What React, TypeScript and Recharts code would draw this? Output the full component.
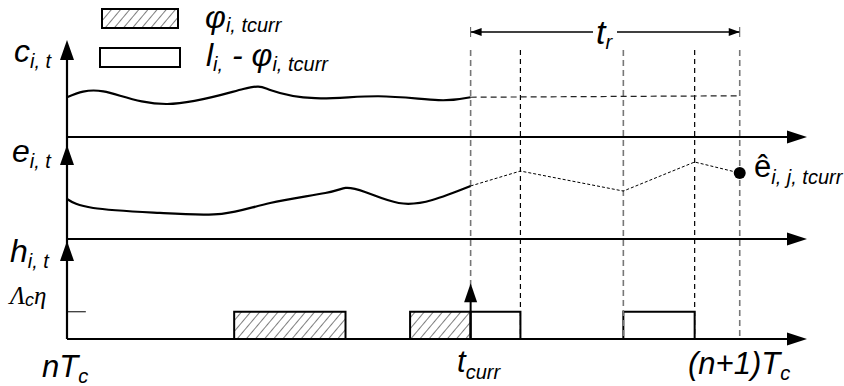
import React from 'react'
import {
  ComposedChart, Line, XAxis, YAxis, ReferenceLine, ReferenceArea, ReferenceDot, Scatter,
} from 'recharts'

const W = 844
const H = 386
const SANS = '"Liberation Sans", Arial, sans-serif'
const SERIF = '"Liberation Serif", "Times New Roman", serif'

// time axis: 0 = nTc, 100 = (n+1)Tc, t_curr = 60
const C_T = [0, 5.4, 14.9, 26.2, 30.2, 36.9, 46.3, 55.2, 60]
const C_V = [4.1, 4.7, 3.4, 4.95, 4.85, 4.0, 4.2, 3.8, 4.1]
const C_FC_T = [60, 100]
const C_FC_V = [4.1, 4.25]

const E_T = [0, 3.9, 13.8, 23.0, 30.2, 38.4, 41.4, 44.3, 49.3, 54.3, 60]
const E_V = [4.26, 3.3, 2.77, 2.68, 3.83, 4.89, 5.43, 5.0, 3.83, 4.15, 5.64]
const E_FC_T = [60, 67.4, 82.7, 93.3, 100]
const E_FC_V = [5.64, 7.23, 5.1, 8.19, 7.02]

const MARKS = [60, 67.4, 82.7, 93.3, 100]
const MARK_GRAY = [true, false, true, false, true]
const HATCHED = [[24.85, 41.4], [51.0, 60]]
const OPEN = [[60, 67.4], [82.7, 93.3]]
const H_LEVEL = 1
const T_CURR = 60

const X_MIN = -3
const X_MAX = 110
const PX_PER_T = 740 / 110
const LEFT = 67 + X_MIN * PX_PER_T
const RIGHT = 37

const PANELS: any = {
  c: { base: 137, top: 40, max: 10 },
  e: { base: 239, top: 145, max: 10 },
  h: { base: 339, top: 241, max: 3.6 },
}
const domainOf = (p: any) => {
  const u = (p.base - p.top) / p.max
  return [(p.base - H) / u, p.base / u]
}
const zip = (ts: number[], vs: number[]) => ts.map((t, i) => ({ t, v: vs[i] }))

const arrowShape = (dir: string, L: number, w: number) => (p: any) => {
  const { cx, cy } = p
  let pts = ''
  if (dir === 'r') pts = `${cx},${cy} ${cx - L},${cy - w} ${cx - L},${cy + w}`
  if (dir === 'l') pts = `${cx},${cy} ${cx + L},${cy - w} ${cx + L},${cy + w}`
  if (dir === 'u') pts = `${cx},${cy} ${cx - w},${cy + L} ${cx + w},${cy + L}`
  return <polygon points={pts} fill="#000" />
}

function Dot(props: any) {
  return <circle cx={props.cx} cy={props.cy} r={6} fill="#000" />
}

export default function App() {
  const sub = { fontSize: 20 }
  return (
    <div style={{ position: 'fixed', left: 0, top: 0, width: W, height: H, background: '#fff' }}>
      <svg width={0} height={0} style={{ position: 'absolute' }}>
        <defs>
          <pattern id="hatch" width="7" height="7" patternUnits="userSpaceOnUse" patternTransform="rotate(40)">
            <line x1="0" y1="0" x2="0" y2="7" stroke="#000" strokeWidth="1" />
          </pattern>
        </defs>
      </svg>
      <ComposedChart width={W} height={H} margin={{ top: 0, right: RIGHT, bottom: 0, left: LEFT }}>
        <XAxis dataKey="t" type="number" domain={[X_MIN, X_MAX]} hide allowDataOverflow />
        <YAxis yAxisId="f" type="number" domain={[0, H]} reversed hide allowDataOverflow />
        <YAxis yAxisId="c" type="number" domain={domainOf(PANELS.c)} hide allowDataOverflow />
        <YAxis yAxisId="e" type="number" domain={domainOf(PANELS.e)} hide allowDataOverflow />
        <YAxis yAxisId="h" type="number" domain={domainOf(PANELS.h)} hide allowDataOverflow />

        {MARKS.map((m, i) => (
          <ReferenceLine key={'m' + i} yAxisId="f" ifOverflow="visible"
            segment={[{ x: m, y: 50 }, { x: m, y: m === T_CURR ? 290 : PANELS.h.base }]}
            stroke={MARK_GRAY[i] ? '#777' : '#000'} strokeWidth={MARK_GRAY[i] ? 1.6 : 1.2}
            strokeDasharray={MARK_GRAY[i] ? '6 4' : '5 4'} />
        ))}

        {['c', 'e', 'h'].map(id => (
          <ReferenceLine key={'ax' + id} yAxisId={id} ifOverflow="visible"
            segment={[{ x: 0, y: 0 }, { x: X_MAX - 2, y: 0 }]} stroke="#000" strokeWidth={2.2} />
        ))}
        <ReferenceLine yAxisId="f" ifOverflow="visible"
          segment={[{ x: 0, y: 50 }, { x: 0, y: PANELS.h.base }]} stroke="#000" strokeWidth={2.2} />
        <ReferenceLine yAxisId="h" ifOverflow="visible"
          segment={[{ x: 0, y: H_LEVEL }, { x: 2.8, y: H_LEVEL }]} stroke="#000" strokeWidth={1} />

        {HATCHED.map(([a, b], i) => (
          <ReferenceArea key={'hb' + i} yAxisId="h" x1={a} x2={b} y1={0} y2={H_LEVEL}
            fill="url(#hatch)" fillOpacity={1} stroke="#000" strokeWidth={2} ifOverflow="visible" />
        ))}
        {OPEN.map(([a, b], i) => (
          <ReferenceArea key={'ob' + i} yAxisId="h" x1={a} x2={b} y1={0} y2={H_LEVEL}
            fill="#fff" fillOpacity={1} stroke="#000" strokeWidth={2} ifOverflow="visible" />
        ))}
        <ReferenceLine yAxisId="h" ifOverflow="visible"
          segment={[{ x: T_CURR, y: 0 }, { x: T_CURR, y: 1.6 }]} stroke="#000" strokeWidth={2} />

        {/* t_r dimension */}
        <ReferenceLine yAxisId="f" ifOverflow="visible"
          segment={[{ x: MARKS[0], y: 32 }, { x: MARKS[4], y: 32 }]} stroke="#000" strokeWidth={1.3} />
        <ReferenceLine yAxisId="f" ifOverflow="visible"
          segment={[{ x: MARKS[0], y: 27 }, { x: MARKS[0], y: 37 }]} stroke="#555" strokeWidth={1} />
        <ReferenceLine yAxisId="f" ifOverflow="visible"
          segment={[{ x: MARKS[4], y: 27 }, { x: MARKS[4], y: 37 }]} stroke="#555" strokeWidth={1} />

        <Line yAxisId="c" data={zip(C_T, C_V)} dataKey="v" type="natural" stroke="#000"
          strokeWidth={2.2} dot={false} isAnimationActive={false} />
        <Line yAxisId="c" data={zip(C_FC_T, C_FC_V)} dataKey="v" type="linear" stroke="#222"
          strokeWidth={1.2} strokeDasharray="6 4" dot={false} isAnimationActive={false} />
        <Line yAxisId="e" data={zip(E_T, E_V)} dataKey="v" type="natural" stroke="#000"
          strokeWidth={2.2} dot={false} isAnimationActive={false} />
        <Line yAxisId="e" data={zip(E_FC_T, E_FC_V)} dataKey="v" type="linear" stroke="#000"
          strokeWidth={1} strokeDasharray="3 2" dot={false} isAnimationActive={false} />

        <Scatter yAxisId="e" data={[{ t: E_FC_T[4], v: E_FC_V[4] }]} dataKey="v"
          shape={Dot} isAnimationActive={false} />

        {['c', 'e', 'h'].map(id => (
          <ReferenceDot key={'ar' + id} yAxisId={id} x={X_MAX} y={0} ifOverflow="visible"
            shape={arrowShape('r', 20, 6.5)} />
        ))}
        {['c', 'e', 'h'].map(id => (
          <ReferenceDot key={'au' + id} yAxisId={id} x={0} y={PANELS[id].max} ifOverflow="visible"
            shape={arrowShape('u', 20, 7)} />
        ))}
        <ReferenceDot yAxisId="h" x={T_CURR} y={2.05} ifOverflow="visible" shape={arrowShape('u', 19, 6.5)} />
        <ReferenceDot yAxisId="f" x={MARKS[0]} y={32} ifOverflow="visible" shape={arrowShape('l', 11, 4)} />
        <ReferenceDot yAxisId="f" x={MARKS[4]} y={32} ifOverflow="visible" shape={arrowShape('r', 11, 4)} />
      </ComposedChart>

      <svg width={W} height={H} style={{ position: 'absolute', left: 0, top: 0, pointerEvents: 'none' }}
        fontFamily={SANS} fontStyle="italic">
        {/* legend */}
        <rect x={102} y={9} width={76} height={19} fill="url(#hatch)" stroke="#000" strokeWidth={2} />
        <rect x={100} y={48} width={80} height={19} fill="#fff" stroke="#000" strokeWidth={2} />
        <text x={205} y={28} fontSize={32}>φ<tspan style={sub} dy={4}>i, tcurr</tspan></text>
        <text x={206} y={66} fontSize={32}>l<tspan style={sub} dy={5}>i,</tspan><tspan dy={-5}> - φ</tspan><tspan style={sub} dy={5}>i, tcurr</tspan></text>

        {/* axis labels */}
        <text x={14} y={62} fontSize={32}>c<tspan style={sub} dy={6}>i, t</tspan></text>
        <text x={12} y={162} fontSize={32}>e<tspan style={sub} dy={6}>i, t</tspan></text>
        <text x={10} y={262} fontSize={32}>h<tspan style={sub} dy={6}>i, t</tspan></text>
        <text x={10} y={304} fontSize={25} fontFamily={SERIF}>Λ<tspan fontFamily={SANS} fontSize={18} dy={2}>c</tspan><tspan dy={-2}>η</tspan></text>

        <text x={42} y={377} fontSize={31}>nT<tspan style={sub} dy={6}>c</tspan></text>
        <text x={457} y={372} fontSize={31}>t<tspan style={sub} dy={7}>curr</tspan></text>
        <text x={688} y={374} fontSize={31}>(n+1)T<tspan style={sub} dy={6}>c</tspan></text>

        <rect x={593} y={22} width={24} height={18} fill="#fff" />
        <text x={596} y={44} fontSize={34}>t<tspan style={sub} dy={5}>r</tspan></text>

        <text x={754} y={177} fontSize={31} fontStyle="normal">ê<tspan style={sub} fontStyle="italic" dy={7}>i, j, tcurr</tspan></text>
      </svg>
    </div>
  )
}
